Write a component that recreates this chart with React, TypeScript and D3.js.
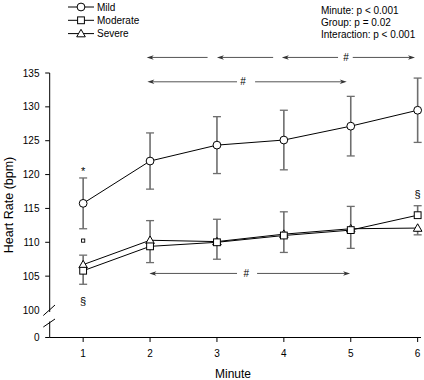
import React from "react";
import * as d3 from "d3";

const minutes = [1, 2, 3, 4, 5, 6];
const mild = [115.75, 122.0, 124.35, 125.1, 127.15, 129.5];
const mildErr = [3.75, 4.15, 4.2, 4.4, 4.4, 4.75];
const moderate = [105.8, 109.4, 110.0, 111.0, 111.8, 114.0];
const moderateErrUp = [2.3, 3.8, 3.4, 3.5, 3.5, 1.4];
const severe = [106.7, 110.3, 110.1, 111.2, 112.0, 112.1];
const severeErrDown = [2.9, 3.3, 2.6, 2.7, 2.9, 1.0];
const yTicks = [100, 105, 110, 115, 120, 125, 130, 135];
const seriesNames = ["Mild", "Moderate", "Severe"];
const statsText = ["Minute: p < 0.001", "Group: p = 0.02", "Interaction: p < 0.001"];

// arrow annotations in data units: [y, xHead, xTail, direction]
const arrowRows = [
  { y: 137.3, segs: [[1.95, 2.86], [3.0, 3.84], [3.97, 4.81]], hash: 4.93, right: [5.03, 5.96] },
  { y: 133.7, segs: [[1.96, 3.3]], hash: 3.39, right: [3.57, 4.94] },
  { y: 105.4, segs: [[1.99, 3.3]], hash: 3.44, right: [3.6, 4.99] },
];

const FONT = "'Liberation Sans', Arial, Helvetica, sans-serif";

export default function App() {
  const W = 424, H = 380;
  const x = d3.scaleLinear().domain([0.5, 6.05]).range([49.7, 421]);
  const y = d3.scaleLinear().domain([100, 135]).range([310, 73]);
  const yLow = d3.scaleLinear().domain([0, 1]).range([337.5, 330.7]);
  const axisX = 49.7;
  const axisY = yLow(0);
  const line = d3.line<number>().x((_, i) => x(minutes[i])).y((d) => y(d));
  const capW = 4;
  const errColor = "#6e6e6e";
  const arrowColor = "#555";

  const marker = (kind: string, cx: number, cy: number, key: string) => {
    if (kind === "Mild") return <circle key={key} cx={cx} cy={cy} r={3.9} fill="#fff" stroke="#000" strokeWidth={1} />;
    if (kind === "Moderate") return <rect key={key} x={cx - 3.4} y={cy - 3.4} width={6.8} height={6.8} fill="#fff" stroke="#000" strokeWidth={1} />;
    const s = 4.3;
    return <path key={key} d={`M${cx},${cy - s} L${cx + s},${cy + s * 0.75} L${cx - s},${cy + s * 0.75} Z`} fill="#fff" stroke="#000" strokeWidth={1} />;
  };

  const arrowHead = (xh: number, yy: number, dir: number, key: string) => (
    <path key={key} d={`M${xh},${yy} L${xh + dir * 7},${yy - 2.3} L${xh + dir * 5},${yy} L${xh + dir * 7},${yy + 2.3} Z`} fill="#333" stroke="none" />
  );

  const errBar = (cx: number, y1: number, y2: number, key: string) => (
    <g key={key}>
      <line x1={cx} x2={cx} y1={y1} y2={y2} stroke={errColor} strokeWidth={1.6} />
      <line x1={cx - capW} x2={cx + capW} y1={y2} y2={y2} stroke={errColor} strokeWidth={1.3} />
    </g>
  );

  return (
    <svg width={W} height={H} style={{ position: "absolute", left: 0, top: 0, fontFamily: FONT }}>
      <rect width={W} height={H} fill="#fff" />
      {/* legend */}
      {seriesNames.map((n, i) => {
        const ly = 7 + i * 13.3;
        return (
          <g key={n}>
            <line x1={68} x2={94} y1={ly} y2={ly} stroke="#000" strokeWidth={1} />
            {marker(n, 81, ly, "lm" + n)}
            <text x={97} y={ly + 3.6} fontSize={10} fill="#000">{n}</text>
          </g>
        );
      })}
      {statsText.map((t, i) => (
        <text key={t} x={321} y={13.5 + i * 12} fontSize={10} fill="#000">{t}</text>
      ))}

      {/* axes */}
      <line x1={axisX} x2={axisX} y1={y(135)} y2={312} stroke="#000" strokeWidth={1} />
      <line x1={axisX} x2={axisX} y1={321.5} y2={axisY} stroke="#000" strokeWidth={1} />
      <line x1={43.3} x2={55} y1={315.5} y2={305} stroke="#000" strokeWidth={1} />
      <line x1={43.3} x2={55} y1={327} y2={319} stroke="#000" strokeWidth={1} />
      <line x1={axisX} x2={x(6.05)} y1={axisY} y2={axisY} stroke="#000" strokeWidth={1} />
      {yTicks.map((t) => (
        <g key={t}>
          {t !== 100 && <line x1={axisX - 4.5} x2={axisX} y1={y(t)} y2={y(t)} stroke="#000" />}
          <text x={39.5} y={y(t)} dy="0.35em" textAnchor="end" fontSize={10}>{t}</text>
        </g>
      ))}
      <line x1={axisX - 4.5} x2={axisX} y1={axisY} y2={axisY} stroke="#000" />
      <text x={39.5} y={axisY} dy="0.35em" textAnchor="end" fontSize={10}>0</text>
      {minutes.map((m) => (
        <g key={m}>
          <line x1={x(m)} x2={x(m)} y1={axisY} y2={axisY + 4.5} stroke="#000" />
          <text x={x(m)} y={356.5} textAnchor="middle" fontSize={10}>{m}</text>
        </g>
      ))}
      <text x={233} y={378} textAnchor="middle" fontSize={12}>Minute</text>
      <text transform={`translate(13,${205}) rotate(-90)`} textAnchor="middle" fontSize={12.5}>Heart Rate (bpm)</text>

      {/* arrows */}
      {arrowRows.map((r, ri) => {
        const yy = y(r.y);
        return (
          <g key={"ar" + ri}>
            {r.segs.map((s, si) => (
              <g key={si}>
                <line x1={x(s[0]) + 4} x2={x(s[1])} y1={yy} y2={yy} stroke={arrowColor} strokeWidth={1} />
                {arrowHead(x(s[0]), yy, 1, "h" + si)}
              </g>
            ))}
            <text x={x(r.hash)} y={yy + 3.6} textAnchor="middle" fontSize={10}>#</text>
            <line x1={x(r.right[0])} x2={x(r.right[1]) - 4} y1={yy} y2={yy} stroke={arrowColor} strokeWidth={1} />
            {arrowHead(x(r.right[1]), yy, -1, "hr")}
          </g>
        );
      })}

      {/* error bars */}
      {minutes.map((m, i) => (
        <g key={"e" + m}>
          {errBar(x(m), y(mild[i]), y(mild[i] + mildErr[i]), "mu")}
          {errBar(x(m), y(mild[i]), y(mild[i] - mildErr[i]), "md")}
          {errBar(x(m), y(moderate[i]), y(moderate[i] + moderateErrUp[i]), "mo")}
          {errBar(x(m), y(severe[i]), y(severe[i] - severeErrDown[i]), "se")}
        </g>
      ))}

      {/* lines */}
      <path d={line(severe) || ""} fill="none" stroke="#000" strokeWidth={1} />
      <path d={line(moderate) || ""} fill="none" stroke="#000" strokeWidth={1} />
      <path d={line(mild) || ""} fill="none" stroke="#000" strokeWidth={1} />

      {/* markers */}
      {minutes.map((m, i) => marker("Severe", x(m), y(severe[i]), "s" + m))}
      {minutes.map((m, i) => marker("Moderate", x(m), y(moderate[i]), "q" + m))}
      {minutes.map((m, i) => marker("Mild", x(m), y(mild[i]), "c" + m))}

      {/* significance symbols */}
      <text x={x(1)} y={174.5} textAnchor="middle" fontSize={11}>*</text>
      <rect x={x(1) - 1.6} y={239} width={3.2} height={3.2} fill="#fff" stroke="#000" strokeWidth={0.9} />
      <text x={x(1)} y={304.5} textAnchor="middle" fontSize={11}>§</text>
      <text x={x(6)} y={198} textAnchor="middle" fontSize={11}>§</text>
    </svg>
  );
}
